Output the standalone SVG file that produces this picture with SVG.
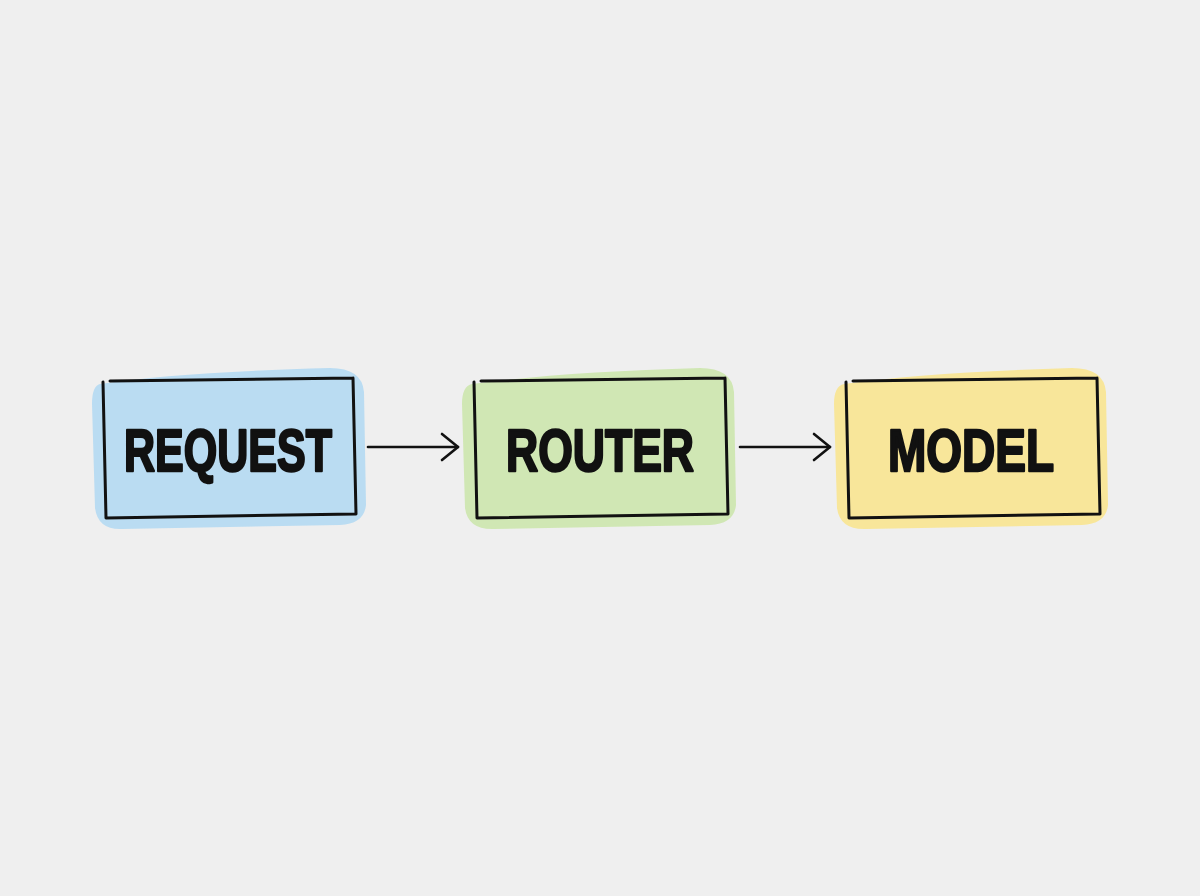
<svg xmlns="http://www.w3.org/2000/svg" width="1200" height="896" viewBox="0 0 1200 896">
<defs>
<marker id="arr" viewBox="0 0 20 30" refX="18" refY="15" markerWidth="20" markerHeight="30" markerUnits="userSpaceOnUse" orient="auto">
<path d="M2,2 L18,15 L2,28" fill="none" stroke="#111" stroke-width="2.6" stroke-linecap="round" stroke-linejoin="round"/>
</marker>
</defs>
<style>
.frame{fill:none;stroke:#111;stroke-width:3;stroke-linecap:round;stroke-linejoin:round}
.lbl{font-family:"Liberation Sans",Arial,sans-serif;font-weight:bold;font-size:60px;fill:#111;stroke:#111;stroke-width:2.5;stroke-linejoin:round}
.conn{fill:none;stroke:#111;stroke-width:2.6;stroke-linecap:round}
</style>
<rect width="1200" height="896" fill="#efefef"/>
<g id="request">
<path d="M100,384 Q180,372 330,368 Q362,368 364,392 L366,505 Q364,524 340,525 L122,529 Q98,530 95,508 L92,404 Q92,386 100,384 Z" fill="#badcf2"/>
<path class="frame" d="M110,381 L353,378 M103,382 L106,518 M106,518 L355,514 M353,378 L356,514"/>
<text class="lbl" x="228" y="471" text-anchor="middle" textLength="208" lengthAdjust="spacingAndGlyphs">REQUEST</text>
</g>
<g id="router">
<path d="M472,384 Q560,372 700,368 Q732,368 734,392 L736,505 Q734,524 710,525 L494,529 Q468,530 465,508 L462,404 Q462,386 472,384 Z" fill="#d0e7b4"/>
<path class="frame" d="M481,381 L725,378 M474,382 L477,518 M477,518 L727,514 M725,378 L728,514"/>
<text class="lbl" x="600" y="471" text-anchor="middle" textLength="188" lengthAdjust="spacingAndGlyphs">ROUTER</text>
</g>
<g id="model">
<path d="M844,384 Q930,372 1072,368 Q1104,368 1106,392 L1108,505 Q1106,524 1082,525 L866,529 Q840,530 837,508 L834,404 Q834,386 844,384 Z" fill="#f8e69a"/>
<path class="frame" d="M853,381 L1097,378 M846,382 L849,518 M849,518 L1099,514 M1097,378 L1100,514"/>
<text class="lbl" x="971" y="471" text-anchor="middle" textLength="166" lengthAdjust="spacingAndGlyphs">MODEL</text>
</g>
<g id="connectors">
<path class="conn" d="M368,447 L458,447" marker-end="url(#arr)"/>
<path class="conn" d="M740,447 L830,447" marker-end="url(#arr)"/>
</g>
</svg>
